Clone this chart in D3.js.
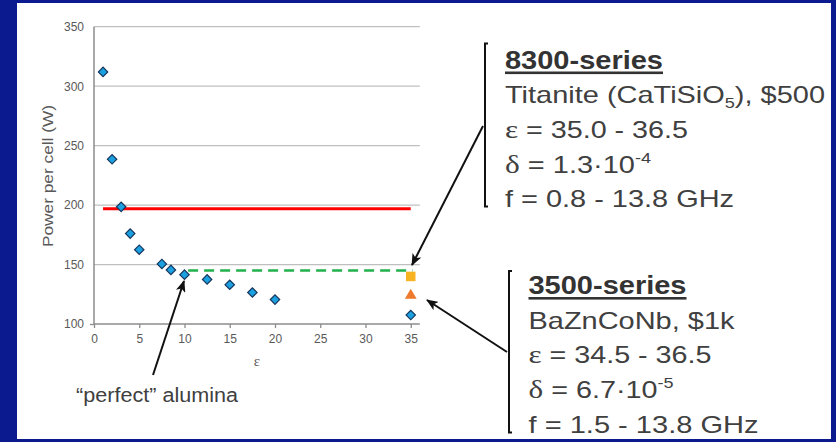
<!DOCTYPE html>
<html><head><meta charset="utf-8">
<script src="https://cdn.jsdelivr.net/npm/d3@7/dist/d3.min.js"></script>
<style>body{margin:0;background:#0b1b8f;}svg{display:block;}</style>
</head><body>
<svg id="c" width="836" height="442"></svg>
<script>
// ---- data ----
const epsilon = [1, 2, 3, 4, 5, 7.5, 8.5, 10, 12.5, 15, 17.5, 20, 35];
const powerPerCell = [312, 238.5, 198.5, 176, 162.5, 150.5, 145.5, 141.5, 137.5, 133, 126.5, 120.5, 107.5];
const series8300 = {eps: [35], power: [140]};
const series3500 = {eps: [35], power: [124]};
const redLine = {eps: [1, 35], power: [197]};
const greenLine = {eps: [10.4, 35.2], power: [145]};
const xTicks = [0, 5, 10, 15, 20, 25, 30, 35];
const yTicks = [100, 150, 200, 250, 300, 350];

const svg = d3.select("#c");
const font = "Arial, 'Liberation Sans', sans-serif";
svg.append("rect").attr("x",0).attr("y",0).attr("width",836).attr("height",442).attr("fill","#0b1b8f");
svg.append("rect").attr("x",17).attr("y",3).attr("width",814).attr("height",436).attr("fill","#ffffff");

const x = d3.scaleLinear().domain([0, 36]).range([94, 419.8]);
const y = d3.scaleLinear().domain([100, 350]).range([324, 26.7]);

// gridlines
svg.append("g").selectAll("line").data(yTicks.filter(d => d > 100)).join("line")
  .attr("x1", x(0)).attr("x2", x(36)).attr("y1", d => y(d)).attr("y2", d => y(d))
  .attr("stroke", "#bfbfbf").attr("stroke-width", 1.3);

// axes
const yAxis = svg.append("g").attr("transform", `translate(${x(0)},0)`)
  .call(d3.axisLeft(y).tickValues(yTicks).tickSize(4).tickPadding(6));
const xAxis = svg.append("g").attr("transform", `translate(0,${y(100)})`)
  .call(d3.axisBottom(x).tickValues(xTicks).tickSize(4).tickPadding(6));
[xAxis, yAxis].forEach(g => {
  g.select(".domain").attr("stroke", "#8c8c8c").attr("stroke-width", 1.5);
  g.selectAll(".tick line").attr("stroke", "#8c8c8c").attr("stroke-width", 1.3);
  g.selectAll("text").attr("fill", "#595959").attr("font-size", 12).attr("font-family", font);
});
yAxis.selectAll(".tick line").filter(d => d > 100).remove();
yAxis.select(".domain").attr("d", `M0,${y(350)}V${y(100)}`);
xAxis.select(".domain").attr("d", `M${x(0)},0H${x(36)}`);

// axis titles
svg.append("text").attr("transform", "translate(53,176) rotate(-90)")
  .attr("text-anchor", "middle").attr("font-family", font).attr("font-size", 15)
  .attr("fill", "#595959").attr("textLength", 142).attr("lengthAdjust", "spacingAndGlyphs")
  .text("Power per cell (W)");
svg.append("text").attr("x", x(18)).attr("y", 366).attr("text-anchor", "middle")
  .attr("font-family", "'Liberation Serif', serif").attr("font-size", 15).attr("fill", "#595959").text("ε");

// reference lines
const line = d3.line().x(d => x(d[0])).y(d => y(d[1]));
svg.append("path").attr("d", line(redLine.eps.map(e => [e, redLine.power[0]])))
  .attr("stroke", "#ff0000").attr("stroke-width", 3).attr("fill", "none");
svg.append("path").attr("d", line(greenLine.eps.map(e => [e, greenLine.power[0]])))
  .attr("stroke", "#22b14c").attr("stroke-width", 2.6).attr("stroke-dasharray", "10,6").attr("fill", "none");

// markers
const diamond = d3.symbol().type(d3.symbolSquare).size(44);
svg.append("g").selectAll("path").data(epsilon.map((e, i) => [e, powerPerCell[i]])).join("path")
  .attr("d", diamond).attr("transform", d => `translate(${x(d[0])},${y(d[1])}) rotate(45)`)
  .attr("fill", "#1ba1e2").attr("stroke", "#17375e").attr("stroke-width", 1.2);
svg.append("g").selectAll("path").data(series8300.eps.map((e, i) => [e, series8300.power[i]])).join("path")
  .attr("d", d3.symbol().type(d3.symbolSquare).size(90))
  .attr("transform", d => `translate(${x(d[0])},${y(d[1])})`).attr("fill", "#f8b323");
svg.append("g").selectAll("path").data(series3500.eps.map((e, i) => [e, series3500.power[i]])).join("path")
  .attr("d", d3.symbol().type(d3.symbolTriangle).size(60))
  .attr("transform", d => `translate(${x(d[0])},${y(d[1])})`).attr("fill", "#ee7a2d");

// arrows
const defs = svg.append("defs");
defs.append("marker").attr("id", "ah").attr("viewBox", "0 0 12 10").attr("refX", 11).attr("refY", 5)
  .attr("markerWidth", 12).attr("markerHeight", 10).attr("markerUnits", "userSpaceOnUse").attr("orient", "auto")
  .append("path").attr("d", "M0,0 L12,5 L0,10 L3,5 Z").attr("fill", "#111");
const arrows = [[153, 375, 184, 281], [483, 126, 412, 265], [507, 352, 427, 300]];
svg.append("g").selectAll("line").data(arrows).join("line")
  .attr("x1", d => d[0]).attr("y1", d => d[1]).attr("x2", d => d[2]).attr("y2", d => d[3])
  .attr("stroke", "#111").attr("stroke-width", 2).attr("marker-end", "url(#ah)");

// "perfect" alumina
svg.append("text").attr("x", 76).attr("y", 401.5).attr("font-family", font).attr("font-size", 20)
  .attr("fill", "#404040").attr("textLength", 162).attr("lengthAdjust", "spacingAndGlyphs").text("“perfect” alumina");

// brackets
function bracket(bx, top, bottom) {
  svg.append("path").attr("d", `M${bx + 3},${top}H${bx}V${bottom}H${bx + 3}`)
    .attr("stroke", "#111").attr("stroke-width", 2).attr("fill", "none");
}
bracket(485, 43.5, 206.5);
bracket(509, 271, 432.5);

// text blocks
const serif = "'Liberation Serif', 'Times New Roman', serif";
function block(x0, base, title, titleW, lines) {
  svg.append("text").attr("x", x0).attr("y", base).attr("font-family", font).attr("font-weight", "bold")
    .attr("font-size", 26).attr("fill", "#333").attr("textLength", titleW).attr("lengthAdjust", "spacingAndGlyphs").text(title);
  svg.append("rect").attr("x", x0).attr("y", base + 3).attr("width", titleW).attr("height", 2.6).attr("fill", "#333");
  lines.forEach((ln, i) => {
    const t = svg.append("text").attr("x", x0).attr("y", base + 34.7 * (i + 1)).attr("font-family", font)
      .attr("font-size", 24).attr("fill", "#404040").attr("textLength", ln.w).attr("lengthAdjust", "spacingAndGlyphs");
    ln.parts.forEach(p => {
      const s = t.append("tspan").text(p.t);
      if (p.serif) s.attr("font-family", serif).attr("font-size", 26);
      if (p.sub) s.attr("font-size", 15).attr("dy", 5);
      if (p.unsub) s.attr("dy", -5);
      if (p.sup) s.attr("font-size", 15).attr("dy", -10);
    });
  });
}
block(505, 68.5, "8300-series", 158, [
  {w: 320, parts: [{t: "Titanite (CaTiSiO"}, {t: "5", sub: true}, {t: "), $500", unsub: true}]},
  {w: 183, parts: [{t: "ε", serif: true}, {t: " = 35.0 - 36.5"}]},
  {w: 146, parts: [{t: "δ", serif: true}, {t: " = 1.3·10"}, {t: "-4", sup: true}]},
  {w: 229, parts: [{t: "f = 0.8 - 13.8 GHz"}]}
]);
block(528.5, 294, "3500-series", 158, [
  {w: 206, parts: [{t: "BaZnCoNb, $1k"}]},
  {w: 183, parts: [{t: "ε", serif: true}, {t: " = 34.5 - 36.5"}]},
  {w: 145, parts: [{t: "δ", serif: true}, {t: " = 6.7·10"}, {t: "-5", sup: true}]},
  {w: 230, parts: [{t: "f = 1.5 - 13.8 GHz"}]}
]);
</script>
</body></html>
